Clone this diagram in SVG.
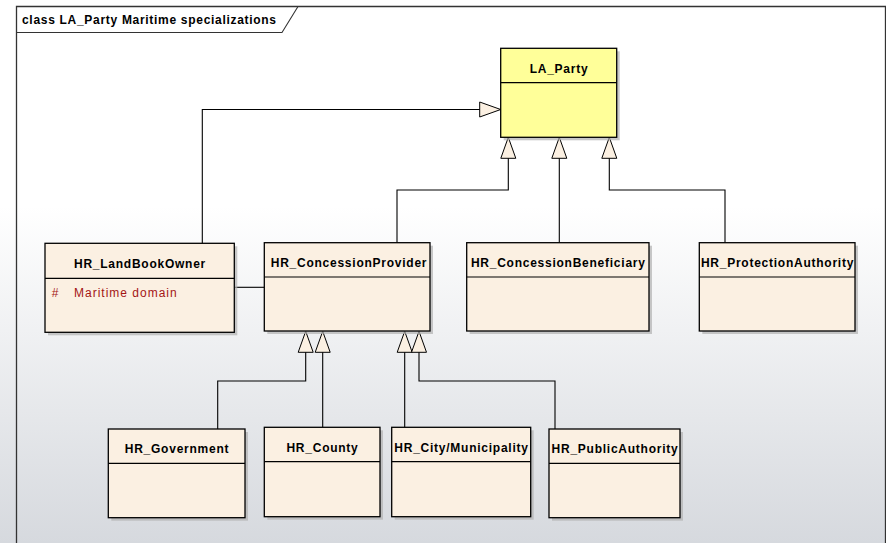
<svg xmlns="http://www.w3.org/2000/svg" width="886" height="543" viewBox="0 0 886 543">
  <defs>
    <linearGradient id="bg" x1="0" y1="0" x2="0" y2="1">
      <stop offset="0" stop-color="#ffffff"/>
      <stop offset="0.38" stop-color="#ffffff"/>
      <stop offset="1" stop-color="#d6d9de"/>
    </linearGradient>
    <marker id="gen" markerUnits="userSpaceOnUse" markerWidth="22" markerHeight="16" refX="21" refY="7.5" orient="auto" overflow="visible">
      <path d="M0,0 L21,7.5 L0,15 Z" fill="#fbf0e2" stroke="#000" stroke-width="1"/>
    </marker>
  </defs>
  <style>
    .box { fill: #fbf0e2; stroke: #000; stroke-width: 1.3; }
    .party { fill: #ffff99; stroke: #000; stroke-width: 1.3; }
    .shadow { fill: #b0b0b0; opacity: 0.7; }
    .div { stroke: #000; stroke-width: 1.2; }
    .name { font-family: "Liberation Sans", Arial, sans-serif; font-weight: bold; font-size: 12px; letter-spacing: 0.75px; fill: #000; text-anchor: middle; }
    .attr { font-family: "Liberation Sans", Arial, sans-serif; font-size: 12px; letter-spacing: 1px; fill: #a31515; }
    .title { font-family: "Liberation Sans", Arial, sans-serif; font-weight: bold; font-size: 12px; letter-spacing: 0.7px; fill: #000; }
    .conn { fill: none; stroke: #000; stroke-width: 1.1; }
  </style>
  <rect x="0" y="0" width="886" height="543" fill="url(#bg)"/>
  <g id="frame">
    <path d="M16.5,543 V6.5 H885.5 V543" fill="none" stroke="#333" stroke-width="1.3"/>
    <path d="M16.5,32.5 H282 L298,6.5" fill="none" stroke="#333" stroke-width="1.1"/>
    <text class="title" x="22" y="23.5">class LA_Party Maritime specializations</text>
  </g>
  <g id="connectors">
    <path class="conn" d="M202.3,243.3 V109.5 H500.7" marker-end="url(#gen)"/>
    <path class="conn" d="M397,242.7 V190 H508.3 V137.3" marker-end="url(#gen)"/>
    <path class="conn" d="M559.3,242.7 V137.3" marker-end="url(#gen)"/>
    <path class="conn" d="M725,242.7 V190 H609.3 V137.3" marker-end="url(#gen)"/>
    <path class="conn" d="M234.3,287.3 H264.3"/>
    <path class="conn" d="M217.7,429 V381 H305.7 V331.3" marker-end="url(#gen)"/>
    <path class="conn" d="M322.7,427.3 V331.3" marker-end="url(#gen)"/>
    <path class="conn" d="M404.7,427.3 V331.3" marker-end="url(#gen)"/>
    <path class="conn" d="M555,429 V381 H419 V331.3" marker-end="url(#gen)"/>
  </g>
  <g id="LA_Party">
    <rect class="shadow" x="503.7" y="51.3" width="116" height="89"/>
    <rect class="party" x="500.7" y="48.3" width="116" height="89"/>
    <line class="div" x1="500.7" y1="82.7" x2="616.7" y2="82.7"/>
    <text class="name" x="559" y="73">LA_Party</text>
  </g>
  <g id="HR_LandBookOwner">
    <rect class="shadow" x="48" y="246.3" width="189.3" height="89"/>
    <rect class="box" x="45" y="243.3" width="189.3" height="89"/>
    <line class="div" x1="45" y1="278.3" x2="234.3" y2="278.3"/>
    <text class="name" x="140" y="268">HR_LandBookOwner</text>
    <text class="attr" x="51.7" y="296.7">#</text>
    <text class="attr" x="74" y="296.7">Maritime domain</text>
  </g>
  <g id="HR_ConcessionProvider">
    <rect class="shadow" x="267.3" y="245.7" width="165.7" height="88.3"/>
    <rect class="box" x="264.3" y="242.7" width="165.7" height="88.3"/>
    <line class="div" x1="264.3" y1="277" x2="430" y2="277"/>
    <text class="name" x="349" y="267">HR_ConcessionProvider</text>
  </g>
  <g id="HR_ConcessionBeneficiary">
    <rect class="shadow" x="469.7" y="245.7" width="182.3" height="88.3"/>
    <rect class="box" x="466.7" y="242.7" width="182.3" height="88.3"/>
    <line class="div" x1="466.7" y1="277" x2="649" y2="277"/>
    <text class="name" x="558.3" y="267">HR_ConcessionBeneficiary</text>
  </g>
  <g id="HR_ProtectionAuthority">
    <rect class="shadow" x="702.3" y="245.7" width="155.7" height="88.3"/>
    <rect class="box" x="699.3" y="242.7" width="155.7" height="88.3"/>
    <line class="div" x1="699.3" y1="277" x2="855" y2="277"/>
    <text class="name" x="777.5" y="267">HR_ProtectionAuthority</text>
  </g>
  <g id="HR_Government">
    <rect class="shadow" x="111.3" y="432" width="136.7" height="88.7"/>
    <rect class="box" x="108.3" y="429" width="136.7" height="88.7"/>
    <line class="div" x1="108.3" y1="463.3" x2="245" y2="463.3"/>
    <text class="name" x="177" y="453">HR_Government</text>
  </g>
  <g id="HR_County">
    <rect class="shadow" x="267.3" y="430.3" width="115.7" height="89.4"/>
    <rect class="box" x="264.3" y="427.3" width="115.7" height="89.4"/>
    <line class="div" x1="264.3" y1="461.7" x2="380" y2="461.7"/>
    <text class="name" x="322.5" y="451.5">HR_County</text>
  </g>
  <g id="HR_City_Municipality">
    <rect class="shadow" x="394.7" y="430.3" width="139" height="89.4"/>
    <rect class="box" x="391.7" y="427.3" width="139" height="89.4"/>
    <line class="div" x1="391.7" y1="461.7" x2="530.7" y2="461.7"/>
    <text class="name" x="461.5" y="451.5">HR_City/Municipality</text>
  </g>
  <g id="HR_PublicAuthority">
    <rect class="shadow" x="552" y="432" width="131" height="88.7"/>
    <rect class="box" x="549" y="429" width="131" height="88.7"/>
    <line class="div" x1="549" y1="463.3" x2="680" y2="463.3"/>
    <text class="name" x="615" y="453">HR_PublicAuthority</text>
  </g>
</svg>
